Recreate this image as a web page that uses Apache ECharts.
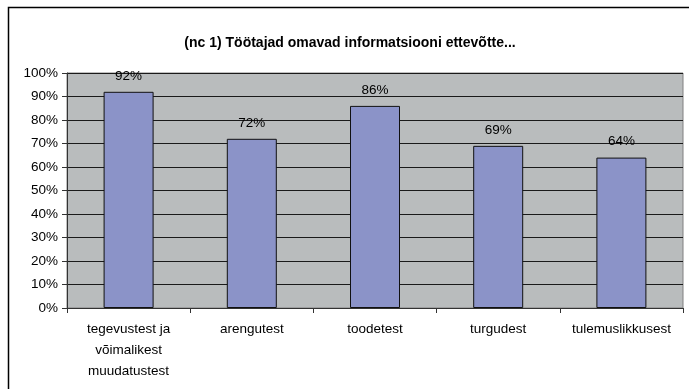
<!DOCTYPE html>
<html>
<head>
<meta charset="utf-8">
<script src="https://cdn.jsdelivr.net/npm/echarts@6/dist/echarts.min.js"></script>
<style>
html,body{margin:0;padding:0;background:#fff;}
#c{width:689px;height:389px;}
</style>
</head>
<body>
<div id="c"></div>
<script>
const titleText = '(nc 1) Töötajad omavad informatsiooni ettevõtte...';
const categories = ['tegevustest ja\nvõimalikest\nmuudatustest', 'arengutest', 'toodetest', 'turgudest', 'tulemuslikkusest'];
const values = [0.92, 0.72, 0.86, 0.69, 0.64];

const chart = echarts.init(document.getElementById('c'), null, {renderer: 'canvas'});
const font = '"Liberation Sans", Arial, sans-serif';
chart.setOption({
  animation: false,
  backgroundColor: '#ffffff',
  title: {
    text: titleText,
    left: 345,
    textAlign: 'center',
    top: 31,
    textStyle: {fontFamily: font, fontSize: 14, fontWeight: 'bold', color: '#000'}
  },
  graphic: [{
    type: 'rect',
    shape: {x: 8.5, y: 7.5, width: 700, height: 400},
    style: {fill: 'none', stroke: '#000', lineWidth: 1.5},
    silent: true,
    z: 100
  }],
  grid: {
    left: 67, right: 6, top: 73, bottom: 81,
    show: true,
    backgroundColor: '#b9bcbd',
    borderColor: '#808080',
    borderWidth: 1
  },
  xAxis: {
    type: 'category',
    data: categories,
    axisLine: {show: true, lineStyle: {color: '#333', width: 1}},
    axisTick: {show: true, length: 5, alignWithLabel: false, lineStyle: {color: '#333'}},
    axisLabel: {
      interval: 0, margin: 11, fontFamily: font, fontSize: 13.5, color: '#000', lineHeight: 21
    }
  },
  yAxis: {
    type: 'value',
    min: 0, max: 1, interval: 0.1,
    axisLine: {show: true, lineStyle: {color: '#333', width: 1}},
    axisTick: {show: true, length: 5, lineStyle: {color: '#333'}},
    axisLabel: {
      margin: 9, fontFamily: font, fontSize: 13.5, color: '#000',
      formatter: v => Math.round(v * 100) + '%'
    },
    splitLine: {show: true, lineStyle: {color: '#1a1a1a', width: 1}}
  },
  series: [{
    type: 'bar',
    data: values,
    barWidth: 50,
    itemStyle: {color: '#8b93c8', borderColor: '#111', borderWidth: 1},
    label: {
      show: true, position: 'top', distance: 9,
      fontFamily: font, fontSize: 13.5, color: '#000',
      formatter: p => Math.round(p.value * 100) + '%'
    }
  }]
});
</script>
</body>
</html>
